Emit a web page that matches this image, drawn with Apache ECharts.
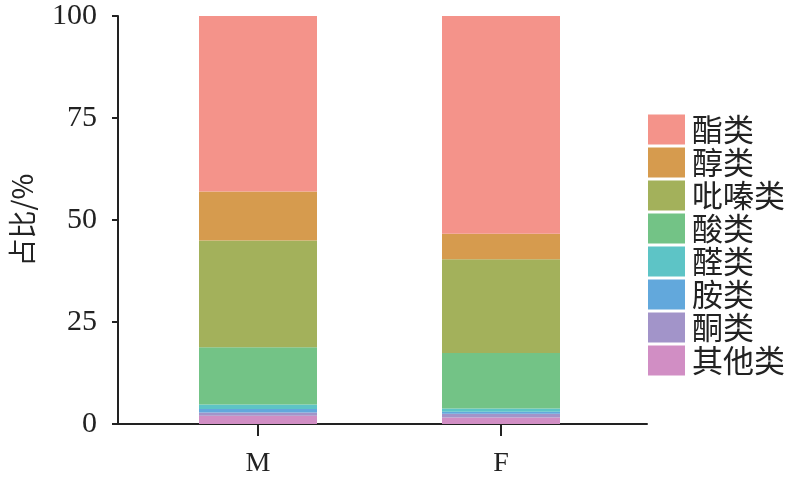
<!DOCTYPE html>
<html>
<head>
<meta charset="utf-8">
<script src="https://cdn.jsdelivr.net/npm/echarts@6/dist/echarts.min.js"></script>
<style>html,body{margin:0;padding:0;background:#fff;}#c{width:793px;height:491px;}</style>
</head>
<body>
<div id="c"></div>
<script>
const categories = ['M', 'F'];
const seriesNames = ['酯类', '醇类', '吡嗪类', '酸类', '醛类', '胺类', '酮类', '其他类'];
const esters    = [43.0, 53.4];
const alcohols  = [12.0, 6.2];
const pyrazines = [26.2, 23.0];
const acids     = [14.0, 13.6];
const aldehydes = [1.1, 0.8];
const amines    = [0.9, 0.5];
const ketones   = [0.8, 0.9];
const others    = [2.0, 1.6];
const yTicks = [0, 25, 50, 75, 100];
const colors = ['#F4938A', '#D69B4E', '#A3B15B', '#73C386', '#5DC4C6', '#62A8DC', '#A294C9', '#D18EC4'];

const valuesByName = {
  '酯类': esters, '醇类': alcohols, '吡嗪类': pyrazines, '酸类': acids,
  '醛类': aldehydes, '胺类': amines, '酮类': ketones, '其他类': others
};
// stack bottom-up: 其他类 ... 酯类
const stackOrder = seriesNames.slice().reverse();
const series = stackOrder.map(name => ({
  name: name,
  type: 'bar',
  stack: 'total',
  xAxisIndex: 0,
  yAxisIndex: 0,
  barWidth: 118,
  itemStyle: { color: colors[seriesNames.indexOf(name)] },
  data: valuesByName[name]
}));

const axisColor = '#222';
const chart = echarts.init(document.getElementById('c'), null, { renderer: 'canvas' });
chart.setOption({
  animation: false,
  backgroundColor: '#fff',
  grid: [
    { left: 136.5, right: 170.5, top: 16, bottom: 67, containLabel: false },
    { left: 113, right: 146, top: 16, bottom: 67, containLabel: false }
  ],
  legend: {
    orient: 'vertical',
    left: 648,
    top: 113,
    padding: 0,
    data: seriesNames,
    itemWidth: 37,
    itemHeight: 30,
    itemGap: 0,
    icon: 'rect',
    textStyle: { fontFamily: 'Noto Sans CJK SC', fontSize: 31, color: '#222', lineHeight: 33, padding: [0, 0, 0, 2] }
  },
  xAxis: [
    {
      type: 'category',
      gridIndex: 0,
      data: categories,
      boundaryGap: true,
      axisLine: { show: false },
      axisTick: { show: true, alignWithLabel: true, length: 12, lineStyle: { color: axisColor, width: 2 } },
      axisLabel: { fontFamily: 'Liberation Serif', fontSize: 28, color: '#222', margin: 26 }
    },
    {
      type: 'value',
      gridIndex: 1,
      min: 0, max: 1,
      splitLine: { show: false },
      axisLine: { show: true, onZero: false, lineStyle: { color: axisColor, width: 2 } },
      axisTick: { show: false },
      axisLabel: { show: false }
    }
  ],
  yAxis: [
    {
      type: 'value',
      gridIndex: 0,
      min: 0, max: 100,
      show: false
    },
    {
      type: 'value',
      gridIndex: 1,
      min: 0,
      max: 100,
      interval: 25,
      name: '占比/%',
      nameLocation: 'middle',
      nameGap: 82,
      nameTextStyle: { fontFamily: 'Noto Sans CJK SC', fontSize: 28, color: '#222' },
      splitLine: { show: false },
      axisLine: { show: true, onZero: false, lineStyle: { color: axisColor, width: 2 } },
      axisTick: { show: true, length: 6, lineStyle: { color: axisColor, width: 2 } },
      axisLabel: {
        formatter: v => yTicks.includes(v) ? String(v) : '',
        fontFamily: 'Liberation Serif', fontSize: 30, color: '#222', margin: 21
      }
    }
  ],
  series: series
});
</script>
</body>
</html>
